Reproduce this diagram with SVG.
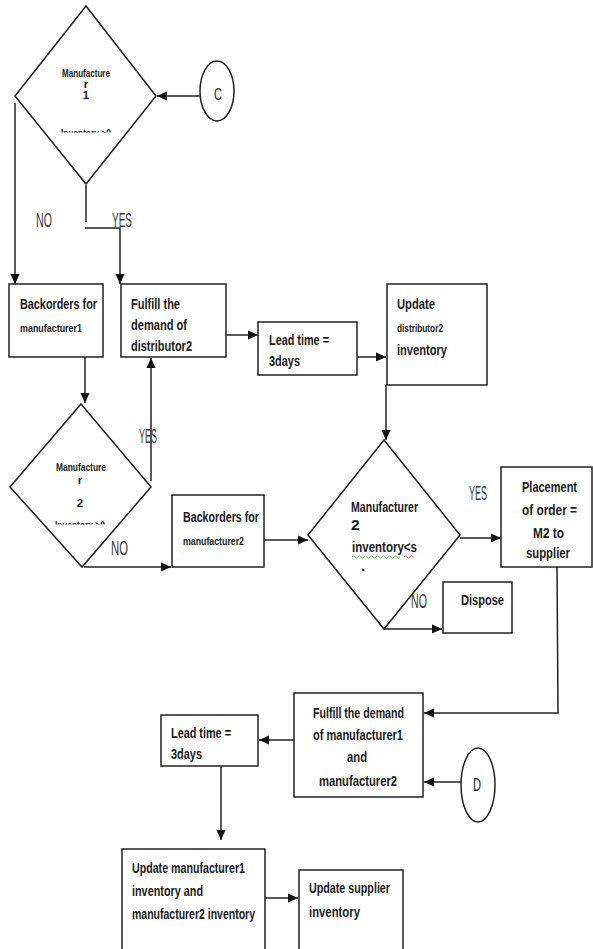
<svg xmlns="http://www.w3.org/2000/svg" width="593" height="949" viewBox="0 0 593 949">
<style>
.s{fill:#fff;stroke:#222;stroke-width:1.5}
.c{fill:none;stroke:#222;stroke-width:1.5}
text{font-family:"Liberation Sans",Arial,sans-serif}
.t{font-size:15.5px;font-weight:bold;fill:#1a1a1a}
.sm{font-size:11.5px;font-weight:bold;fill:#1a1a1a}
.l{font-size:21px;fill:#3a3a3a}
</style>
<defs>
<marker id="ah" markerUnits="userSpaceOnUse" markerWidth="10" markerHeight="10" viewBox="0 0 10 10" refX="10" refY="5" orient="auto">
<path d="M0,0.5 L10,5 L0,9.5 Z" fill="#111"/>
</marker>
<clipPath id="cl1"><rect x="40" y="129" width="90" height="3.5"/></clipPath>
<clipPath id="cl2"><rect x="40" y="521" width="90" height="3.5"/></clipPath>
</defs>

<g id="connectors">
<line class="c" x1="200" y1="96" x2="157" y2="96" marker-end="url(#ah)"/>
<line class="c" x1="15" y1="103" x2="15" y2="284" marker-end="url(#ah)"/>
<polyline class="c" points="86,185 86,222"/>
<polyline class="c" points="85,228 120,228 120,284" marker-end="url(#ah)"/>
<line class="c" x1="85" y1="357" x2="85" y2="403" marker-end="url(#ah)"/>
<line class="c" x1="151" y1="481" x2="151" y2="358" marker-end="url(#ah)"/>
<line class="c" x1="84" y1="567" x2="171" y2="567" marker-end="url(#ah)"/>
<line class="c" x1="226" y1="335" x2="258" y2="335" marker-end="url(#ah)"/>
<line class="c" x1="357" y1="357" x2="386" y2="357" marker-end="url(#ah)"/>
<line class="c" x1="386" y1="385" x2="386" y2="440" marker-end="url(#ah)"/>
<line class="c" x1="264" y1="540" x2="308" y2="540" marker-end="url(#ah)"/>
<line class="c" x1="460" y1="538" x2="501" y2="538" marker-end="url(#ah)"/>
<line class="c" x1="384" y1="629" x2="442" y2="629" marker-end="url(#ah)"/>
<polyline class="c" points="557,567 558,713 424,713" marker-end="url(#ah)"/>
<line class="c" x1="461" y1="782" x2="424" y2="782" marker-end="url(#ah)"/>
<line class="c" x1="294" y1="740" x2="259" y2="740" marker-end="url(#ah)"/>
<line class="c" x1="221" y1="758" x2="221" y2="840" marker-end="url(#ah)"/>
<line class="c" x1="265" y1="898" x2="298" y2="898" marker-end="url(#ah)"/>
<text class="l" x="36" y="227" textLength="16" lengthAdjust="spacingAndGlyphs">NO</text>
<text class="l" x="112" y="227" textLength="20" lengthAdjust="spacingAndGlyphs">YES</text>
<text class="l" x="139" y="443" textLength="18" lengthAdjust="spacingAndGlyphs">YES</text>
<text class="l" x="111" y="555" textLength="17" lengthAdjust="spacingAndGlyphs">NO</text>
<text class="l" x="469" y="500" textLength="18" lengthAdjust="spacingAndGlyphs">YES</text>
<text class="l" x="411" y="608" textLength="16" lengthAdjust="spacingAndGlyphs">NO</text>
</g>

<g id="d1">
<polygon class="s" points="86,6 156,96 86,184 15,96"/>
<text class="sm" x="62" y="77" textLength="48" lengthAdjust="spacingAndGlyphs">Manufacture</text>
<text class="sm" x="86" y="88" text-anchor="middle">r</text>
<text class="sm" x="86" y="99" text-anchor="middle">1</text>
<text class="sm" x="86" y="137" text-anchor="middle" clip-path="url(#cl1)" textLength="50" lengthAdjust="spacingAndGlyphs">Inventory &gt;0</text>
</g>

<g id="circleC">
<ellipse class="s" cx="217" cy="91" rx="17" ry="30"/>
<text x="214" y="100" font-size="17" fill="#222" textLength="8" lengthAdjust="spacingAndGlyphs">C</text>
</g>

<g id="b1">
<rect class="s" x="9" y="284" width="94" height="73"/>
<text class="t" x="20" y="309" textLength="77" lengthAdjust="spacingAndGlyphs">Backorders for</text>
<text class="sm" x="20" y="332" textLength="62" lengthAdjust="spacingAndGlyphs">manufacturer1</text>
</g>

<g id="b2">
<rect class="s" x="121" y="284" width="105" height="73"/>
<text class="t" x="131" y="309" textLength="49" lengthAdjust="spacingAndGlyphs">Fulfill the</text>
<text class="t" x="131" y="330" textLength="56" lengthAdjust="spacingAndGlyphs">demand of</text>
<text class="t" x="131" y="351" textLength="61" lengthAdjust="spacingAndGlyphs">distributor2</text>
</g>

<g id="d2">
<polygon class="s" points="81,404 151,487 82,567 10,487"/>
<text class="sm" x="56" y="471" textLength="50" lengthAdjust="spacingAndGlyphs">Manufacture</text>
<text class="sm" x="80" y="484" text-anchor="middle">r</text>
<text class="sm" x="80" y="507" text-anchor="middle">2</text>
<text class="sm" x="80" y="529" text-anchor="middle" clip-path="url(#cl2)" textLength="50" lengthAdjust="spacingAndGlyphs">Inventory &gt;0</text>
</g>

<g id="lt1">
<rect class="s" x="258" y="322" width="99" height="53"/>
<text class="t" x="269" y="345" textLength="60" lengthAdjust="spacingAndGlyphs">Lead time =</text>
<text class="t" x="269" y="366" textLength="31" lengthAdjust="spacingAndGlyphs">3days</text>
</g>

<g id="ud2">
<rect class="s" x="387" y="284" width="100" height="101"/>
<text class="t" x="397" y="309" textLength="38" lengthAdjust="spacingAndGlyphs">Update</text>
<text class="sm" x="397" y="332" textLength="46" lengthAdjust="spacingAndGlyphs">distributor2</text>
<text class="t" x="397" y="355" textLength="50" lengthAdjust="spacingAndGlyphs">inventory</text>
</g>

<g id="b3">
<rect class="s" x="172" y="495" width="92" height="72"/>
<text class="t" x="183" y="522" textLength="76" lengthAdjust="spacingAndGlyphs">Backorders for</text>
<text class="sm" x="183" y="545" textLength="61" lengthAdjust="spacingAndGlyphs">manufacturer2</text>
</g>

<g id="d3">
<polygon class="s" points="384,440 460,535 384,629 308,535"/>
<text class="t" x="351" y="512" textLength="67" lengthAdjust="spacingAndGlyphs">Manufacturer</text>
<text class="t" x="351" y="530" font-size="14">2</text>
<text class="t" x="352" y="552" textLength="65" lengthAdjust="spacingAndGlyphs">inventory&lt;s</text>
<text class="t" x="361" y="571">.</text>
<path d="M352,557 q1.5,-2 3,0 t3,0 t3,0 t3,0 t3,0 t3,0 t3,0 t3,0 t3,0 t3,0 t3,0 t3,0 t3,0 t3,0 t3,0 t3,0" fill="none" stroke="#3a3" stroke-width="0.8"/>
<path d="M404,557 q1.5,-2 3,0 t3,0 t3,0" fill="none" stroke="#e33" stroke-width="0.8"/>
</g>

<g id="place">
<rect class="s" x="501" y="467" width="91" height="100"/>
<text class="t" transform="translate(549.5,492) scale(0.71,1)" text-anchor="middle">Placement</text>
<text class="t" transform="translate(549.5,515) scale(0.765,1)" text-anchor="middle">of order =</text>
<text class="t" transform="translate(548.5,538) scale(0.766,1)" text-anchor="middle">M2 to</text>
<text class="t" transform="translate(548,558) scale(0.73,1)" text-anchor="middle">supplier</text>
</g>

<g id="dispose">
<rect class="s" x="443" y="582" width="69" height="51"/>
<text class="t" x="461" y="605" textLength="43" lengthAdjust="spacingAndGlyphs">Dispose</text>
</g>

<g id="fm">
<rect class="s" x="294" y="693" width="129" height="104"/>
<text class="t" x="313" y="718" textLength="91" lengthAdjust="spacingAndGlyphs">Fulfill the demand</text>
<text class="t" x="313" y="740" textLength="90" lengthAdjust="spacingAndGlyphs">of manufacturer1</text>
<text class="t" x="347" y="762" textLength="20" lengthAdjust="spacingAndGlyphs">and</text>
<text class="t" x="319" y="786" textLength="78" lengthAdjust="spacingAndGlyphs">manufacturer2</text>
</g>

<g id="circleD">
<ellipse class="s" cx="478" cy="785" rx="17" ry="37"/>
<text x="473" y="791" font-size="18" fill="#222" textLength="8" lengthAdjust="spacingAndGlyphs">D</text>
</g>

<g id="lt2">
<rect class="s" x="161" y="715" width="97" height="51"/>
<text class="t" x="171" y="738" textLength="60" lengthAdjust="spacingAndGlyphs">Lead time =</text>
<text class="t" x="171" y="759" textLength="31" lengthAdjust="spacingAndGlyphs">3days</text>
</g>

<g id="um">
<rect class="s" x="122" y="849" width="143" height="102"/>
<text class="t" x="132" y="873" textLength="113" lengthAdjust="spacingAndGlyphs">Update manufacturer1</text>
<text class="t" x="132" y="896" textLength="71" lengthAdjust="spacingAndGlyphs">inventory and</text>
<text class="t" x="132" y="919" textLength="123" lengthAdjust="spacingAndGlyphs">manufacturer2 inventory</text>
</g>

<g id="us">
<rect class="s" x="299" y="870" width="104" height="81"/>
<text class="t" x="309" y="893" textLength="81" lengthAdjust="spacingAndGlyphs">Update supplier</text>
<text class="t" x="309" y="917" textLength="51" lengthAdjust="spacingAndGlyphs">inventory</text>
</g>
</svg>
